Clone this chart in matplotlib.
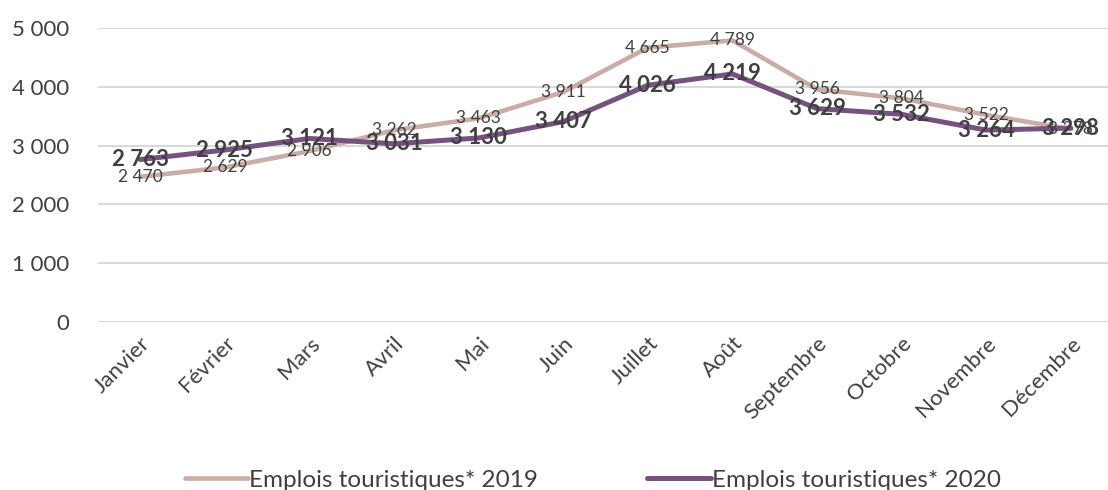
import matplotlib
matplotlib.use("Agg")
import matplotlib.pyplot as plt

mois = ["Janvier", "Février", "Mars", "Avril", "Mai", "Juin", "Juillet",
        "Août", "Septembre", "Octobre", "Novembre", "Décembre"]
emplois_2019 = [2470, 2629, 2906, 3262, 3463, 3911, 4665, 4789, 3956, 3804, 3522, 3278]
emplois_2020 = [2763, 2925, 3121, 3031, 3130, 3407, 4026, 4219, 3629, 3532, 3264, 3298]

c2019 = "#C9ADA7"
c2020 = "#76527F"
txt = "#404040"

plt.rcParams['font.family'] = ['Lato', 'DejaVu Sans']

def fmt(v):
    return "{:,}".format(v).replace(",", " ")

fig = plt.figure(figsize=(11.08, 4.9), dpi=100)
ax = fig.add_axes([98 / 1108, 168 / 490, 1010 / 1108, 294 / 490])

x = list(range(len(mois)))
ax.plot(x, emplois_2019, color=c2019, lw=3.3, solid_capstyle='round',
        label="Emplois touristiques* 2019", zorder=3)
ax.plot(x, emplois_2020, color=c2020, lw=3.6, solid_capstyle='round',
        label="Emplois touristiques* 2020", zorder=4)

for i, v in enumerate(emplois_2019):
    ax.text(i, v, fmt(v), ha='center', va='center', fontsize=12.5,
            color=txt, zorder=5)
for i, v in enumerate(emplois_2020):
    ax.text(i, v, fmt(v), ha='center', va='center', fontsize=16,
            fontweight='bold', color=txt, zorder=6)

ax.set_xlim(-0.5, 11.44)
ax.set_ylim(0, 5000)
ax.set_yticks([0, 1000, 2000, 3000, 4000, 5000])
ax.set_yticklabels([fmt(v) for v in [0, 1000, 2000, 3000, 4000, 5000]],
                   fontsize=16, color=txt)
ax.set_xticks(x)
ax.set_xticklabels(mois, rotation=45, ha='right', rotation_mode='anchor',
                   fontsize=16, color=txt)
ax.tick_params(length=0, pad=21)
ax.tick_params(axis='x', pad=8)
ax.grid(axis='y', color='#D9D9D9', lw=1.5)
ax.set_axisbelow(True)
for s in ax.spines.values():
    s.set_visible(False)

fig.legend(loc='center', bbox_to_anchor=(0.535, 10 / 490), ncol=2,
           frameon=False, fontsize=17.5, handlelength=2.6, handletextpad=0.05,
           columnspacing=4.5, labelcolor=txt)

fig.savefig("out.png", dpi=100)
